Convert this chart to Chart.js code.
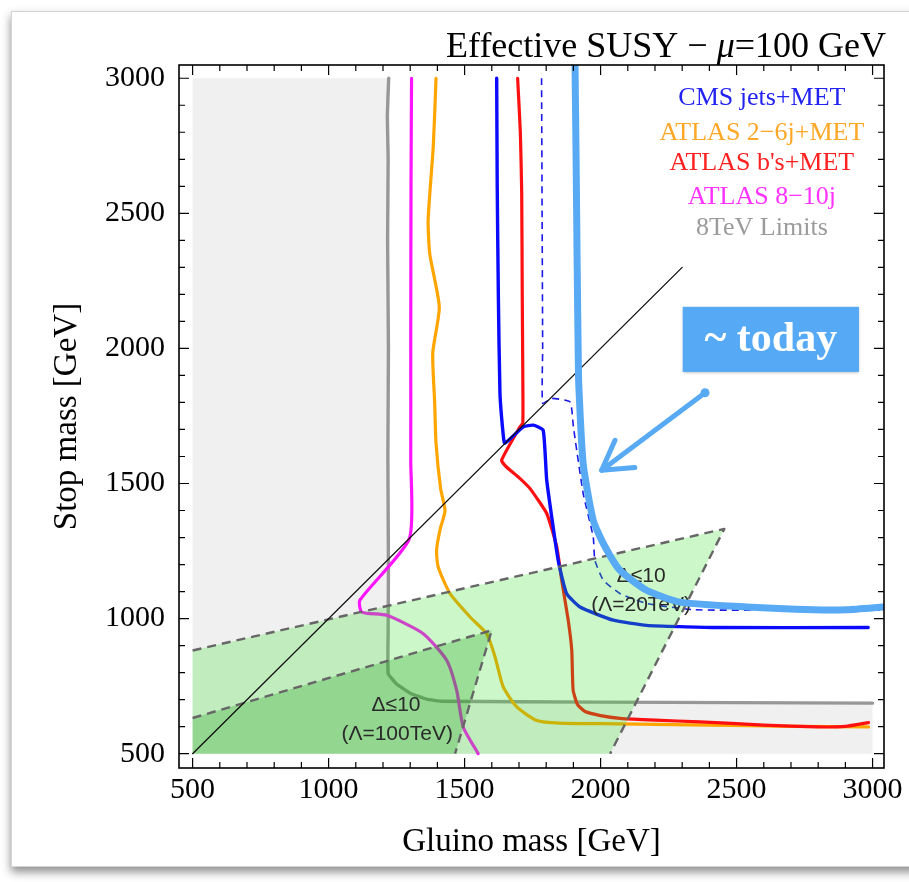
<!DOCTYPE html>
<html>
<head>
<meta charset="utf-8">
<script src="https://cdn.jsdelivr.net/npm/chart.js@4.4.1/dist/chart.umd.min.js"></script>
<style>
  html, body { margin: 0; padding: 0; background: #fff; }
  #wrap { position: relative; width: 909px; height: 882px; overflow: hidden; }
  #card { position: absolute; left: 11px; top: 11px; width: 940px; height: 854px; background: #fff;
          border: 1px solid #d4d4d4; box-shadow: 0 5px 9px rgba(0,0,0,0.45); }
  canvas { position: absolute; left: 0; top: 0; }
</style>
</head>
<body>
<div id="wrap"><div id="card"></div><canvas id="c" width="909" height="882"></canvas></div>
<script>
// Axis ticks
const xTicks = [500, 1000, 1500, 2000, 2500, 3000];
const xTickLabels = ['500', '1000', '1500', '2000', '2500', '3000'];
const yTicks = [500, 1000, 1500, 2000, 2500, 3000];
const yTickLabels = ['500', '1000', '1500', '2000', '2500', '3000'];

// Exclusion contours: [gluino mass, stop mass] in GeV
const limits8TeV = [[1221,3000],[1216,2860],[1219,2700],[1217,2400],[1220,2000],[1218,1600],[1220,1200],
  [1219,950],[1219,797],[1250,758],[1300,724],[1360,702],[1420,694],[2000,691],[2500,689],[3000,687]];
const limits8TeVRegion = [[500,500],[500,3000],[1221,3000],[1216,2860],[1219,2700],[1217,2400],[1220,2000],
  [1218,1600],[1220,1200],[1219,950],[1219,797],[1250,758],[1300,724],[1360,702],[1420,694],[2000,691],
  [2500,689],[3000,687],[3000,500]];
const atlas8to10j = [[1305,3000],[1303,2600],[1302,2000],[1302,1586],[1297,1296],[1115,1068],[1122,1024],
  [1214,1012],[1347,945],[1434,846],[1471,734],[1495,599],[1550,500]];
const atlas2to6j = [[1395,3000],[1385,2750],[1366,2475],[1372,2350],[1407,2153],[1383,1983],[1390,1800],
  [1395,1649],[1412,1480],[1428,1400],[1410,1330],[1397,1253],[1403,1191],[1446,1093],[1520,1006],
  [1581,944],[1612,858],[1642,747],[1692,673],[1765,623],[1850,613],[2000,611],[2400,606],[2700,601],[2985,599]];
const atlasBs = [[1695,3000],[1705,2800],[1710,2574],[1712,2200],[1714,1900],[1714,1724],[1703,1709],
  [1636,1586],[1653,1562],[1700,1522],[1740,1482],[1802,1389],[1839,1265],[1857,1142],[1881,994],
  [1894,883],[1899,735],[1915,682],[1943,656],[2000,641],[2071,631],[2200,624],[2365,618],[2600,606],
  [2800,599],[2900,601],[2985,615]];
const cmsJets = [[1618,3000],[1620,2600],[1624,2204],[1630,1835],[1642,1680],[1648,1649],[1716,1710],
  [1753,1716],[1789,1697],[1802,1512],[1844,1216],[1875,1093],[1924,1043],[2047,994],[2169,975],
  [2414,967],[2984,967]];
const cmsJetsExpected = [[1783,3000],[1785,2500],[1787,2000],[1787,1797],[1820,1815],[1888,1802],
  [1900,1710],[1936,1463],[1973,1302],[1979,1216],[2010,1142],[2071,1093],[2169,1056],[2341,1033],
  [2600,1031],[3027,1031]];
const todayReach = [[1906,3049],[1910,2700],[1914,2300],[1918,1957],[1920,1860],[1936,1574],[1973,1364],
  [2010,1278],[2071,1179],[2169,1105],[2292,1061],[2537,1043],[2782,1033],[2905,1033],[3039,1043]];
const arrowShaft = [[2384,1836],[2004,1549]];
const arrowHead = [[2053,1660],[2004,1549],[2126,1559]];
const stopEqualsGluino = [[500,500],[2300,2300]];

// Fine-tuning regions (Delta <= 10)
const tuning20TeV = [[500,500],[500,882],[2455,1332],[2035,500]];
const tuning20TeVEdge = [[500,882],[2455,1332],[2035,500]];
const tuning100TeV = [[500,500],[500,632],[1600,957],[1465,500]];
const tuning100TeVEdge = [[500,632],[1600,957],[1465,500]];

const serif = '"Liberation Serif", "Times New Roman", serif';
const sans = '"Liberation Sans", Arial, sans-serif';

const toPts = arr => arr.map(([x, y]) => ({ x, y }));
function curve(label, pts, color, width, order, extra) {
  return Object.assign({
    label, data: toPts(pts), showLine: true, borderColor: color, borderWidth: width,
    pointRadius: 0, fill: false, tension: 0.2, borderCapStyle: 'round', borderJoinStyle: 'round', order
  }, extra || {});
}
function region(label, pts, color, order) {
  return {
    label, data: toPts(pts), showLine: true, borderColor: 'rgba(0,0,0,0)', borderWidth: 0,
    pointRadius: 0, fill: 'shape', backgroundColor: color, tension: 0, order
  };
}

const datasets = [
  region('8TeV excluded', limits8TeVRegion, '#f0f0f0', 100),
  curve('8TeV Limits', limits8TeV, 'rgba(128,128,128,0.8)', 3.4, 95, { tension: 0.1 }),
  curve('ATLAS 8-10j', atlas8to10j, '#ff14ff', 3.2, 90),
  curve('ATLAS 2-6j+MET', atlas2to6j, '#ffa500', 3.2, 89),
  curve('ATLAS bs+MET', atlasBs, '#ff1010', 3.2, 88, { tension: 0.15 }),
  curve('CMS jets+MET', cmsJets, '#0a0aff', 3.4, 87, { tension: 0.15 }),
  curve('CMS expected', cmsJetsExpected, '#1a1ae6', 1.6, 86, { borderDash: [7, 5], tension: 0.15, borderCapStyle: 'butt' }),
  region('Delta 20TeV', tuning20TeV, 'rgba(51,223,35,0.25)', 70),
  curve('Delta 20TeV edge', tuning20TeVEdge, '#666', 2.4, 69, { borderDash: [9, 6], tension: 0, borderCapStyle: 'butt' }),
  region('Delta 100TeV', tuning100TeV, 'rgba(8,147,8,0.25)', 68),
  curve('Delta 100TeV edge', tuning100TeVEdge, '#666', 2.4, 67, { borderDash: [9, 6], tension: 0, borderCapStyle: 'butt' }),
  curve('stop = gluino', stopEqualsGluino, '#111', 1.3, 50, { tension: 0 }),
  curve('today', todayReach, '#58aaf4', 7, 20, { tension: 0.2 }),
  curve('arrow shaft', arrowShaft, '#58aaf4', 5, 15, {
    tension: 0, pointRadius: c => (c.dataIndex === 0 ? 4.5 : 0), pointBackgroundColor: '#58aaf4',
    pointBorderWidth: 0 }),
  curve('arrow head', arrowHead, '#58aaf4', 5, 14, { tension: 0 })
];

const legendLabels = ['CMS jets+MET', 'ATLAS 2\u22126j+MET', "ATLAS b's+MET", 'ATLAS 8\u221210j', '8TeV Limits'];
const legendColors = ['#2222f2', '#ffa726', '#ff2020', '#ff33ff', '#9b9b9b'];

const decor = {
  id: 'decor',
  beforeDatasetDraw(chart, args) {
    if (chart.data.datasets[args.index].label !== 'today') return;
    const { ctx, scales: { x, y } } = chart;
    ctx.save();
    ctx.fillStyle = '#2a2a2a';
    ctx.font = '21px ' + sans;
    ctx.textAlign = 'center';
    ctx.textBaseline = 'middle';
    ctx.fillText('\u0394\u226410', x.getPixelForValue(1248), y.getPixelForValue(679));
    ctx.fillText('(\u039b=100TeV)', x.getPixelForValue(1252), y.getPixelForValue(572));
    ctx.fillText('\u0394\u226410', x.getPixelForValue(2149), y.getPixelForValue(1156));
    ctx.fillText('(\u039b=20TeV)', x.getPixelForValue(2149), y.getPixelForValue(1049));
    ctx.restore();
  },
  afterDatasetsDraw(chart) {
    const { ctx, chartArea: a, scales: { x, y } } = chart;
    ctx.save();
    // inward ticks on all four sides
    ctx.strokeStyle = '#000';
    ctx.lineWidth = 1.2;
    ctx.beginPath();
    for (let v = 500; v <= 3000; v += 100) {
      const len = v % 500 === 0 ? 10 : 6;
      const px = x.getPixelForValue(v);
      ctx.moveTo(px, a.bottom); ctx.lineTo(px, a.bottom - len);
      ctx.moveTo(px, a.top); ctx.lineTo(px, a.top + len);
      const py = y.getPixelForValue(v);
      ctx.moveTo(a.left, py); ctx.lineTo(a.left + len, py);
      ctx.moveTo(a.right, py); ctx.lineTo(a.right - len, py);
    }
    ctx.stroke();
    ctx.lineWidth = 1.6;
    ctx.strokeRect(a.left, a.top, a.right - a.left, a.bottom - a.top);

    // legend
    ctx.font = '26px ' + serif;
    ctx.textAlign = 'center';
    ctx.textBaseline = 'middle';
    const lx = x.getPixelForValue(2593);
    const ly = [2927, 2797, 2686, 2560, 2445];
    legendLabels.forEach((t, i) => {
      ctx.fillStyle = legendColors[i];
      ctx.fillText(t, lx, y.getPixelForValue(ly[i]));
    });

    // "~ today" tag
    const bx0 = x.getPixelForValue(2302), bx1 = x.getPixelForValue(2950);
    const by0 = y.getPixelForValue(2154), by1 = y.getPixelForValue(1913);
    ctx.save();
    ctx.shadowColor = 'rgba(0,0,0,0.3)';
    ctx.shadowBlur = 3;
    ctx.shadowOffsetY = 1;
    ctx.fillStyle = '#55a9f5';
    ctx.fillRect(bx0, by0, bx1 - bx0, by1 - by0);
    ctx.restore();
    ctx.fillStyle = '#fff';
    ctx.font = 'bold 42px ' + serif;
    ctx.fillText('~ today', (bx0 + bx1) / 2, (by0 + by1) / 2 + 1);

    // title with italic mu
    ctx.fillStyle = '#000';
    ctx.textAlign = 'left';
    ctx.textBaseline = 'alphabetic';
    const parts = [['Effective SUSY \u2212 ', '36px '], ['\u03bc', 'italic 36px '], ['=100 GeV', '36px ']];
    let w = 0;
    parts.forEach(([t, f]) => { ctx.font = f + serif; w += ctx.measureText(t).width; });
    let tx = 886 - w;
    parts.forEach(([t, f]) => { ctx.font = f + serif; ctx.fillText(t, tx, 57); tx += ctx.measureText(t).width; });
    ctx.restore();
  }
};

new Chart(document.getElementById('c').getContext('2d'), {
  type: 'scatter',
  data: { datasets },
  options: {
    responsive: false,
    animation: false,
    events: [],
    layout: { padding: { left: 0, right: 25, top: 65, bottom: 0 }, autoPadding: false },
    plugins: { legend: { display: false }, tooltip: { enabled: false }, title: { display: false } },
    scales: {
      x: {
        type: 'linear', position: 'bottom', min: 450, max: 3042,
        afterBuildTicks: s => { s.ticks = xTicks.map(v => ({ value: v })); },
        afterFit: s => { s.height = 114; s.paddingLeft = 0; s.paddingRight = 0; },
        grid: { display: false, drawTicks: false }, border: { display: false },
        ticks: { color: '#000', font: { family: serif, size: 30 }, padding: 4, maxRotation: 0,
                 autoSkip: false, callback: (v, i) => xTickLabels[i] },
        title: { display: true, text: 'Gluino mass [GeV]', color: '#000',
                 font: { family: serif, size: 33 }, padding: { top: 0, bottom: 20 } }
      },
      y: {
        type: 'linear', position: 'left', min: 447, max: 3049,
        afterBuildTicks: s => { s.ticks = yTicks.map(v => ({ value: v })); },
        afterFit: s => { s.width = 179; s.paddingTop = 0; s.paddingBottom = 0; },
        grid: { display: false, drawTicks: false }, border: { display: false },
        ticks: { color: '#000', font: { family: serif, size: 30 }, padding: 14,
                 autoSkip: false, callback: (v, i) => yTickLabels[i] },
        title: { display: true, text: 'Stop mass [GeV]', color: '#000',
                 font: { family: serif, size: 33 }, padding: { top: 48, bottom: 0 } }
      }
    }
  },
  plugins: [decor]
});
</script>
</body>
</html>
